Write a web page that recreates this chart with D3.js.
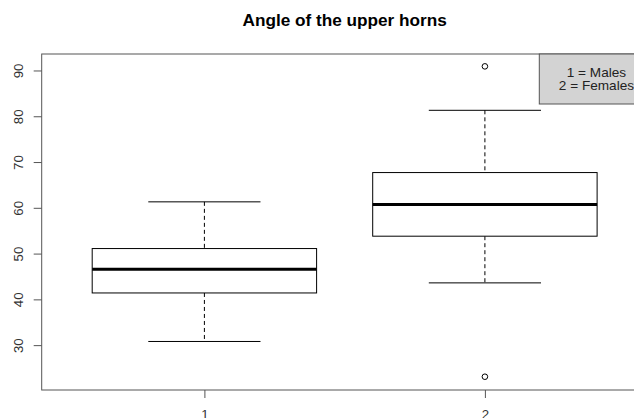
<!DOCTYPE html>
<html>
<head>
<meta charset="utf-8">
<script src="https://cdn.jsdelivr.net/npm/d3@7"></script>
<style>
  body { margin: 0; background: #fff; overflow: hidden; }
  svg { display: block; font-family: "Liberation Sans", Arial, sans-serif; }
</style>
</head>
<body>
<div id="chart"></div>
<script>
// boxplot stats
const groups = [1, 2];
const lowWhisker = [30.8, 43.6];
const q1 = [41.4, 53.8];
const median = [46.6, 60.7];
const q3 = [51.1, 67.7];
const highWhisker = [61.3, 81.3];
const outliers = [[], [23.1, 90.9]];
const legendLabels = ["1 = Males", "2 = Females"];
const yTicks = [30, 40, 50, 60, 70, 80, 90];

const width = 634;
const height = 418;
const plotLeft = 41.7, plotRight = 647.6, plotTop = 54, plotBottom = 390;

const svg = d3.select("#chart").append("svg").attr("width", width).attr("height", height);

const x = d3.scaleLinear().domain([0.42, 2.58]).range([plotLeft, plotRight]);
const y = d3.scaleLinear().domain([20.2, 93.6]).range([plotBottom, plotTop]);

const stats = groups.map((g, i) => ({
    g: g, lo: lowWhisker[i], q1: q1[i], med: median[i], q3: q3[i], hi: highWhisker[i], out: outliers[i]
}));

// title
svg.append("text")
    .attr("x", (plotLeft + plotRight) / 2)
    .attr("y", 26)
    .attr("text-anchor", "middle")
    .style("font-weight", "bold")
    .style("font-size", "17.2px")
    .text("Angle of the upper horns");

// boxes
const boxW = 0.8, capW = 0.4;
const box = svg.selectAll(".box").data(stats).join("g").attr("class", "box")
    .attr("fill", "none").attr("stroke", "#000");

box.append("line")
    .attr("x1", d => x(d.g)).attr("x2", d => x(d.g))
    .attr("y1", d => y(d.hi)).attr("y2", d => y(d.q3))
    .attr("stroke-dasharray", "4,3");
box.append("line")
    .attr("x1", d => x(d.g)).attr("x2", d => x(d.g))
    .attr("y1", d => y(d.q1)).attr("y2", d => y(d.lo))
    .attr("stroke-dasharray", "4,3");
box.append("line")
    .attr("x1", d => x(d.g - capW / 2)).attr("x2", d => x(d.g + capW / 2))
    .attr("y1", d => y(d.hi)).attr("y2", d => y(d.hi));
box.append("line")
    .attr("x1", d => x(d.g - capW / 2)).attr("x2", d => x(d.g + capW / 2))
    .attr("y1", d => y(d.lo)).attr("y2", d => y(d.lo));
box.append("rect")
    .attr("x", d => x(d.g - boxW / 2))
    .attr("width", d => x(d.g + boxW / 2) - x(d.g - boxW / 2))
    .attr("y", d => y(d.q3))
    .attr("height", d => y(d.q1) - y(d.q3))
    .attr("fill", "#fff");
box.append("line")
    .attr("x1", d => x(d.g - boxW / 2)).attr("x2", d => x(d.g + boxW / 2))
    .attr("y1", d => y(d.med)).attr("y2", d => y(d.med))
    .attr("stroke-width", 3);
box.selectAll("circle").data(d => d.out.map(v => ({ g: d.g, v: v }))).join("circle")
    .attr("cx", d => x(d.g)).attr("cy", d => y(d.v)).attr("r", 2.8);

// frame
svg.append("rect")
    .attr("x", plotLeft).attr("y", plotTop)
    .attr("width", plotRight - plotLeft).attr("height", plotBottom - plotTop)
    .attr("fill", "none").attr("stroke", "#555");

// y axis
const yAxis = svg.append("g")
    .attr("transform", `translate(${plotLeft},0)`)
    .call(d3.axisLeft(y).tickValues(yTicks).tickSize(8).tickSizeOuter(0));
yAxis.select(".domain").remove();
yAxis.selectAll("line").attr("stroke", "#555");
yAxis.selectAll("text")
    .attr("transform", "rotate(-90)")
    .attr("x", 0).attr("y", -18.5).attr("dy", 0)
    .attr("text-anchor", "middle")
    .attr("fill", "#333")
    .style("font-size", "13.3px")
    .style("font-family", "Liberation Sans, Arial, sans-serif");

// x axis
const xAxis = svg.append("g")
    .attr("transform", `translate(0,${plotBottom})`)
    .call(d3.axisBottom(x).tickValues(groups).tickFormat(d3.format("d")).tickSize(8).tickSizeOuter(0));
xAxis.select(".domain").remove();
xAxis.selectAll("line").attr("stroke", "#555");
xAxis.selectAll("text")
    .attr("y", 20).attr("dy", "0.71em")
    .attr("fill", "#333")
    .style("font-size", "13.3px")
    .style("font-family", "Liberation Sans, Arial, sans-serif");

// legend
const legX0 = 539.3, legY1 = 104;
svg.append("rect")
    .attr("x", legX0).attr("y", plotTop)
    .attr("width", plotRight - legX0).attr("height", legY1 - plotTop)
    .attr("fill", "#d3d3d3").attr("stroke", "#555");
svg.selectAll(".leg").data(legendLabels).join("text").attr("class", "leg")
    .attr("x", (legX0 + plotRight) / 2 + 3)
    .attr("y", (d, i) => 76.5 + i * 13.8)
    .attr("text-anchor", "middle")
    .attr("fill", "#222")
    .style("font-size", "13.6px")
    .text(d => d);
</script>
</body>
</html>
